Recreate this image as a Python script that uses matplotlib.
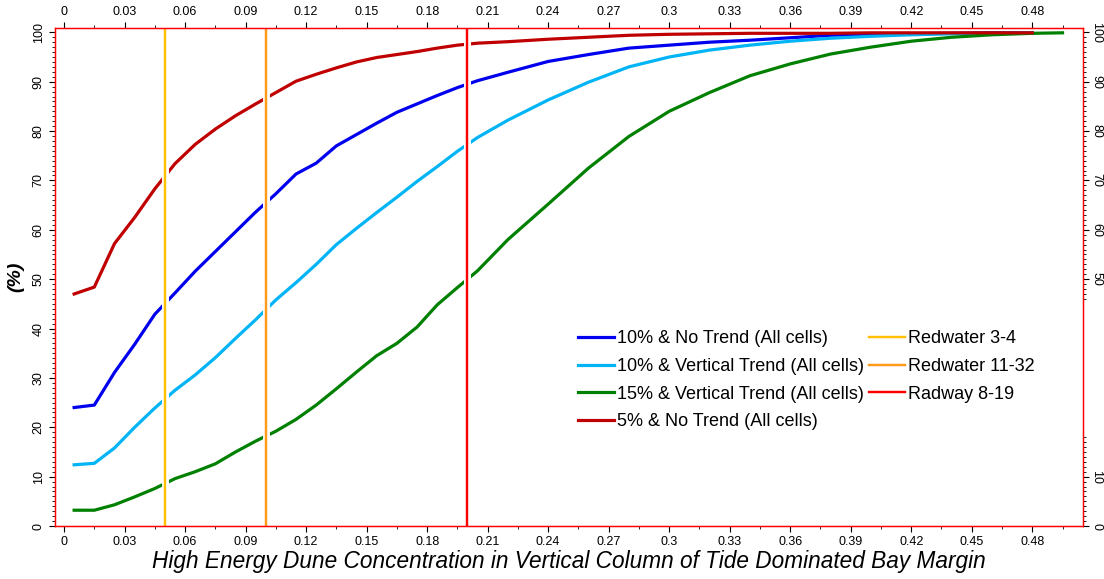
import numpy as np
import matplotlib
matplotlib.use("Agg")
import matplotlib.pyplot as plt
import matplotlib.patheffects as pe
from matplotlib.ticker import MultipleLocator, FixedLocator

plt.rcParams['font.family'] = ['Liberation Sans', 'DejaVu Sans']

x = [0.005, 0.015, 0.025, 0.035, 0.045, 0.055, 0.065, 0.075, 0.085, 0.095,
     0.105, 0.115, 0.125, 0.135, 0.145, 0.155, 0.165, 0.175, 0.185, 0.195,
     0.205, 0.22, 0.24, 0.26, 0.28, 0.30, 0.32, 0.34, 0.36, 0.38,
     0.40, 0.42, 0.44, 0.46, 0.48]
x_green = x + [0.495]

no_trend_10 = [24.0, 24.5, 31.1, 36.8, 42.9, 47.2, 51.6, 55.6, 59.6, 63.6,
               67.3, 71.3, 73.5, 77.0, 79.3, 81.6, 83.8, 85.5, 87.2, 88.8,
               90.2, 91.9, 94.1, 95.5, 96.8, 97.4, 98.0, 98.4, 98.9, 99.4,
               99.6, 99.7, 99.8, 99.9, 99.9]
vert_trend_10 = [12.4, 12.7, 15.8, 20.0, 23.9, 27.5, 30.6, 34.1, 38.0, 41.8,
                 45.8, 49.3, 53.0, 57.0, 60.3, 63.5, 66.6, 69.8, 72.8, 75.9,
                 78.7, 82.2, 86.3, 89.9, 93.0, 95.0, 96.4, 97.4, 98.2, 98.8,
                 99.2, 99.5, 99.7, 99.8, 99.9]
vert_trend_15 = [3.2, 3.2, 4.3, 5.9, 7.6, 9.6, 11.0, 12.6, 15.0, 17.2,
                 19.2, 21.6, 24.5, 27.8, 31.2, 34.5, 37.0, 40.3, 44.8, 48.3,
                 51.7, 58.0, 65.2, 72.5, 78.9, 84.0, 87.8, 91.2, 93.6, 95.6,
                 97.0, 98.2, 99.0, 99.5, 99.8, 99.9]
no_trend_5 = [47.0, 48.4, 57.2, 62.5, 68.3, 73.4, 77.3, 80.4, 83.1, 85.5,
              87.8, 90.1, 91.5, 92.8, 94.0, 94.9, 95.5, 96.1, 96.8, 97.4,
              97.8, 98.1, 98.6, 99.0, 99.4, 99.6, 99.7, 99.8, 99.8, 99.8,
              99.9, 99.9, 99.9, 99.9, 99.9]

wells = ['Redwater 3-4', 'Redwater 11-32', 'Radway 8-19']
well_x = [0.05, 0.10, 0.20]
well_colors = ['#FFC000', '#FF9A1A', '#FF0000']

fig = plt.figure(figsize=(11.04, 5.79), dpi=100)
ax = fig.add_axes([0.0498, 0.0915, 0.9309, 0.8595])

ax.plot(x, no_trend_10, color='#0000EE', lw=2.3, label='10% & No Trend (All cells)')
ax.plot(x, vert_trend_10, color='#00B4F5', lw=2.3, label='10% & Vertical Trend (All cells)')
ax.plot(x_green, vert_trend_15, color='#008000', lw=2.3, label='15% & Vertical Trend (All cells)')
ax.plot(x, no_trend_5, color='#C00000', lw=2.3, label='5% & No Trend (All cells)')

for name, wx, c in zip(wells, well_x, well_colors):
    ax.axvline(wx, color=c, lw=1.6, label=name,
               path_effects=[pe.withStroke(linewidth=5, foreground='white'), pe.Normal()])

ax.set_xlim(-0.0045, 0.505)
ax.set_ylim(0, 100.8)

xt = np.round(np.arange(0, 0.49, 0.03), 2)
ax.xaxis.set_major_locator(FixedLocator(xt))
ax.xaxis.set_minor_locator(FixedLocator(np.arange(0.015, 0.505, 0.03)))
ax.set_xticklabels(['0' if v == 0 else f'{v:g}' for v in xt])
ax.yaxis.set_major_locator(MultipleLocator(10))
ax.yaxis.set_minor_locator(MultipleLocator(1))

for s in ax.spines.values():
    s.set_color('red')
    s.set_linewidth(1.0)

ax.tick_params(which='both', direction='out', colors='black', labelsize=9)
ax.tick_params(which='major', length=4)
ax.tick_params(which='minor', length=2)
ax.tick_params(axis='x', which='both', top=True, labeltop=True)
for lab in ax.get_yticklabels():
    lab.set_rotation(90)
    lab.set_va('center')

ax2 = ax.twinx()
ax2.set_ylim(0, 100.8)
ax2.yaxis.set_major_locator(FixedLocator([0, 10, 50, 60, 70, 80, 90, 100]))
ax2.yaxis.set_minor_locator(FixedLocator(list(range(1, 19)) + list(range(46, 100))))
ax2.tick_params(which='both', direction='out', colors='black', labelsize=9, pad=1.5)
ax2.tick_params(which='major', length=4)
ax2.tick_params(which='minor', length=2)
for s in ax2.spines.values():
    s.set_color('red')
for lab in ax2.get_yticklabels():
    lab.set_rotation(-90)
    lab.set_va('center')

ax.set_xlabel('High Energy Dune Concentration in Vertical Column of Tide Dominated Bay Margin',
              fontsize=16.3, style='italic', labelpad=1)
ax.set_ylabel('(%)', fontsize=14, style='italic', fontweight='bold', labelpad=6)

ax.legend(ncol=2, loc='upper left', bbox_to_anchor=(578 / 1104, 1 - 330 / 579),
          bbox_transform=fig.transFigure, frameon=False, fontsize=13,
          handlelength=2.0, handletextpad=0.15, columnspacing=0.3,
          labelspacing=0.6, borderpad=0, borderaxespad=0)

fig.savefig('out.png', dpi=100)
